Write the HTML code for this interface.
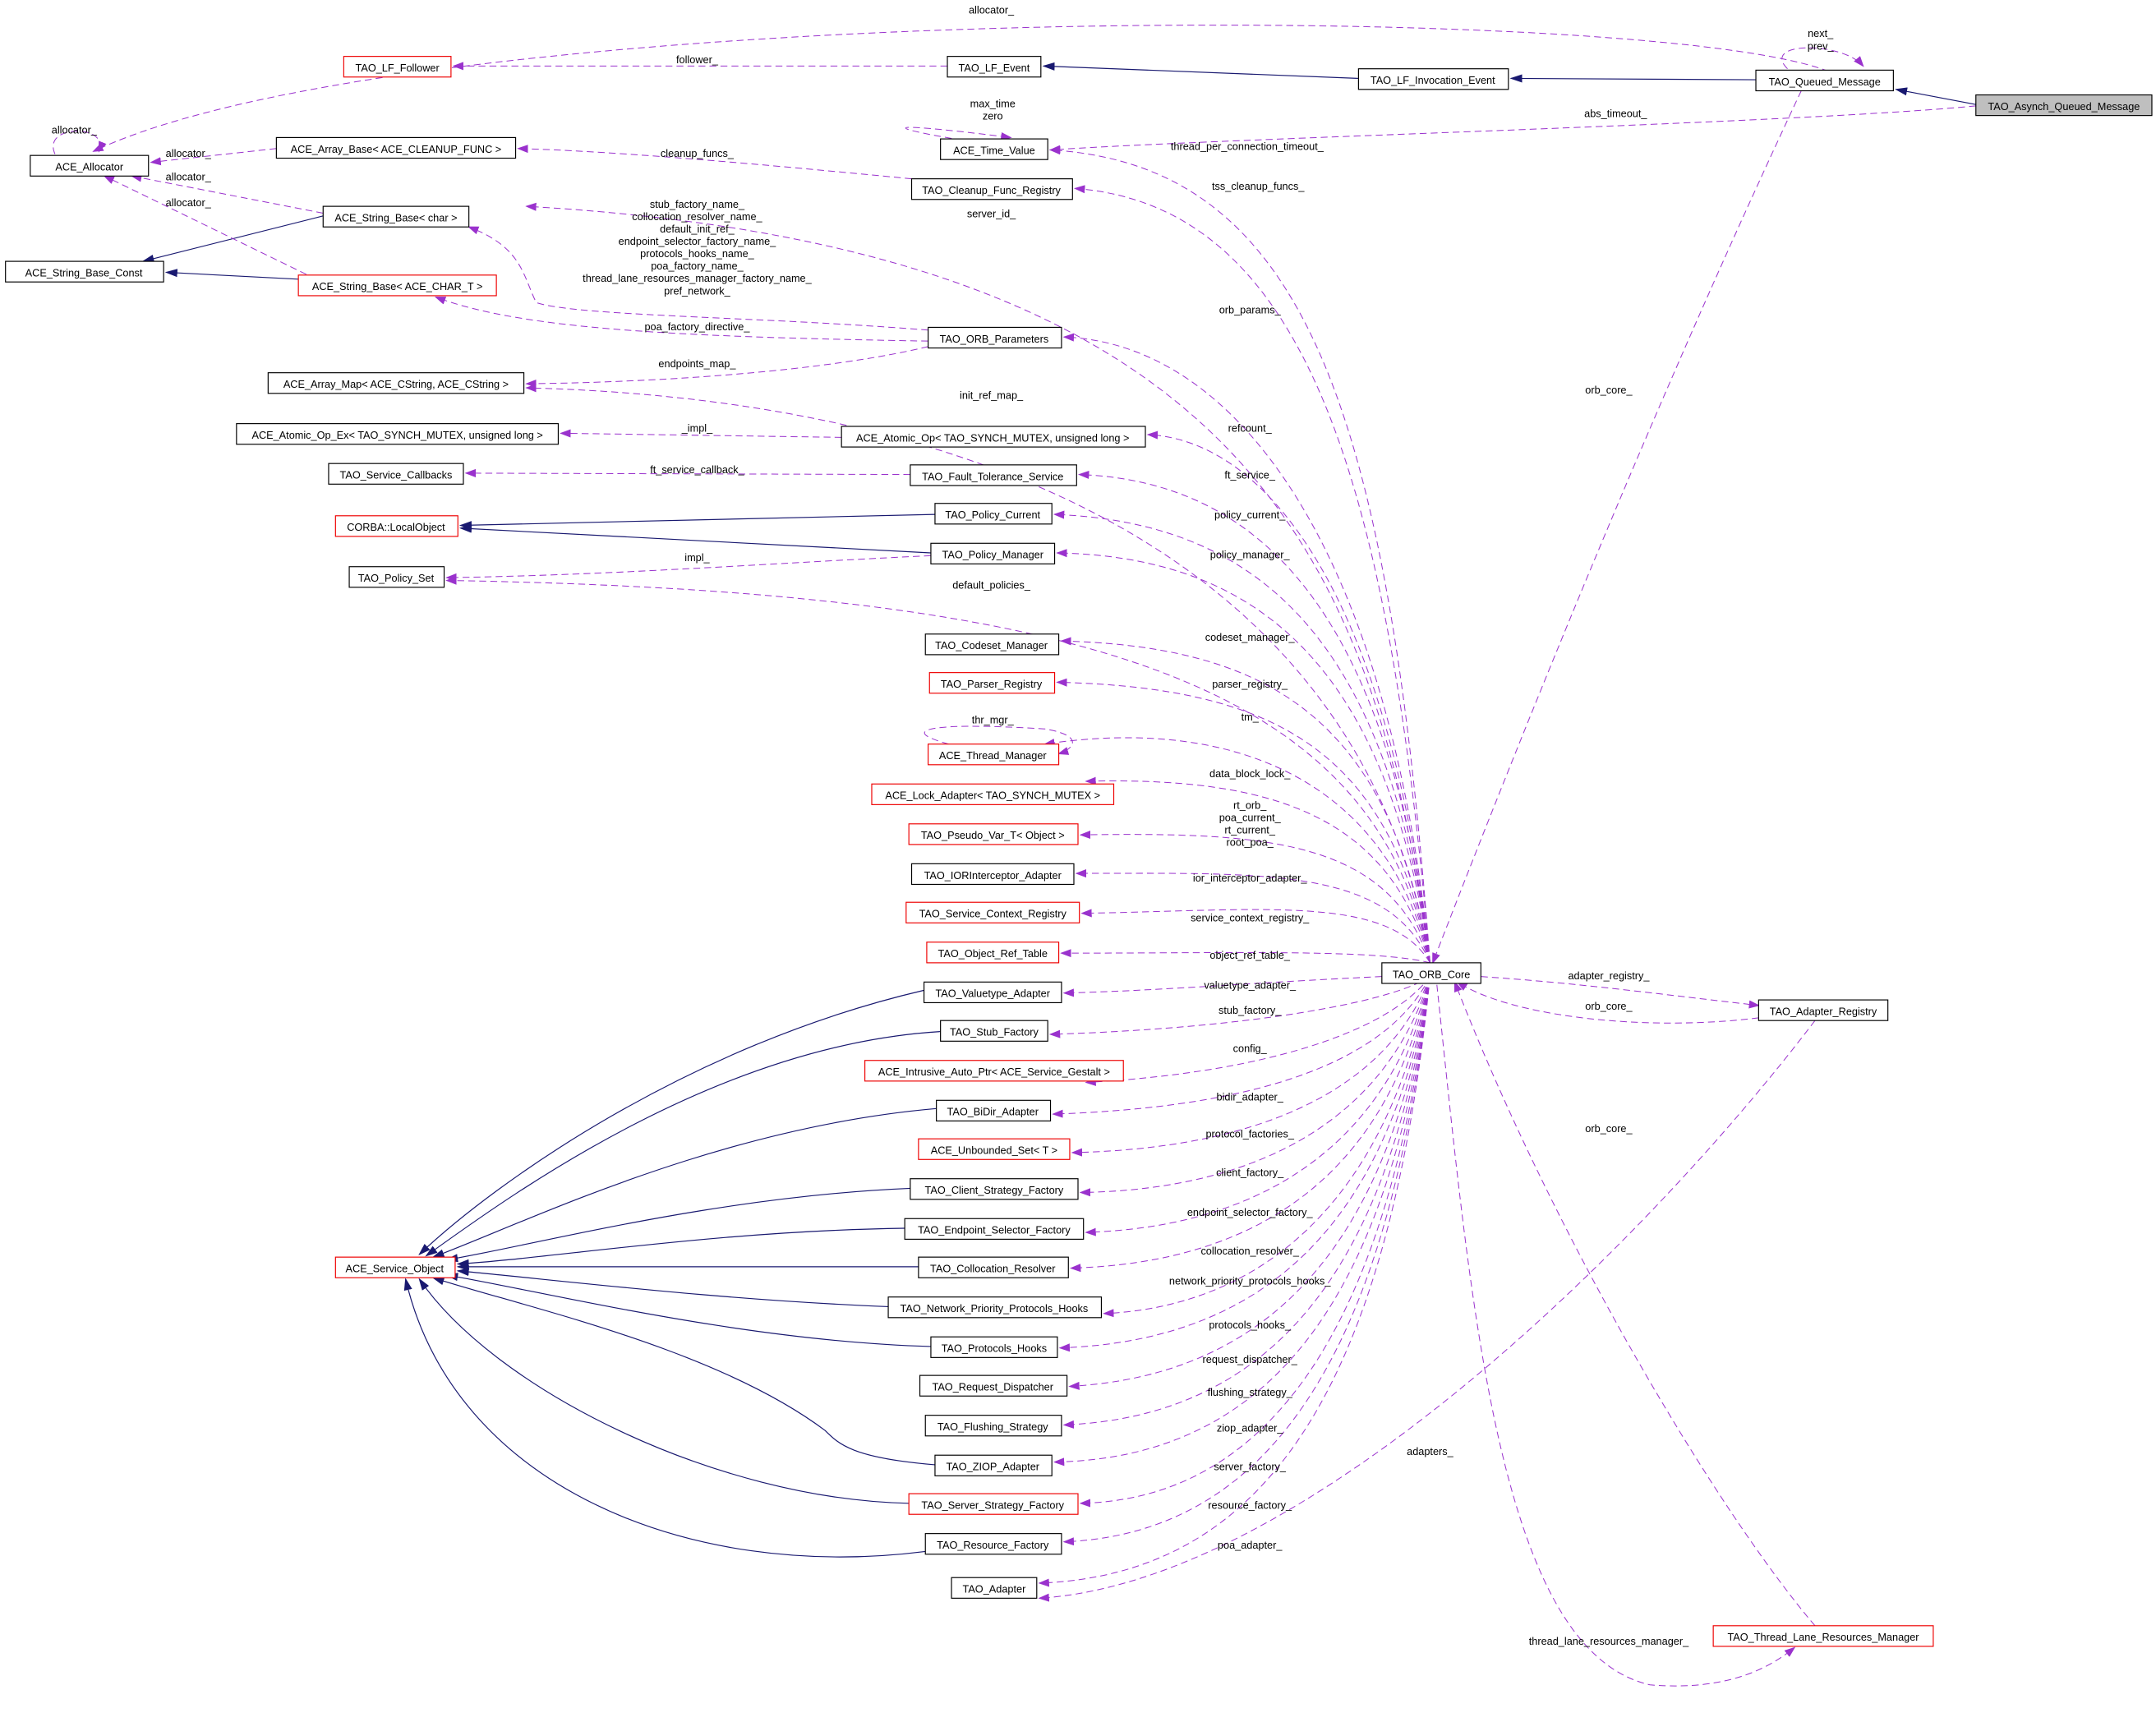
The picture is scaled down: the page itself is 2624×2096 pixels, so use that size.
<!DOCTYPE html>
<html><head><meta charset="utf-8"><style>
html,body{margin:0;padding:0;background:#fff}
svg{display:block}
text{font-family:"Liberation Sans",sans-serif;font-size:7.6px;fill:#000}
.b{fill:#fff;stroke:#000;stroke-width:.7}
.r{fill:#fff;stroke:#e00;stroke-width:.7}
.d{fill:none;stroke:#9a32cd;stroke-width:.6;stroke-dasharray:5,3;marker-end:url(#mp)}
.n{fill:none;stroke:#191970;stroke-width:.7;marker-end:url(#mn)}
.t{text-anchor:middle}
</style></head><body>
<svg width="2624" height="2096" viewBox="0 0 1568 1252" preserveAspectRatio="none" xmlns="http://www.w3.org/2000/svg">
<defs>
<marker id="mp" markerWidth="8" markerHeight="8" refX="7" refY="4" orient="auto" markerUnits="userSpaceOnUse"><path d="M0,1 L8,4 L0,7 z" fill="#9a32cd"/></marker>
<marker id="mn" markerWidth="9" markerHeight="8" refX="8" refY="4" orient="auto" markerUnits="userSpaceOnUse"><path d="M0,1 L9,4 L0,7 z" fill="#191970"/></marker>
</defs>
<path class="n" d="M1437,76 L1379,65"/>
<path class="n" d="M1277,58 L1099,57"/>
<path class="n" d="M988,57 L759,48"/>
<path class="n" d="M235,157 L104,190"/>
<path class="n" d="M217,203 L121,198"/>
<path class="n" d="M680,374 L335,382"/>
<path class="n" d="M677,402 L335,384"/>
<path class="n" d="M672,720 C500,760 360,860 305,912"/>
<path class="n" d="M684,750 C520,760 370,870 310,913"/>
<path class="n" d="M681,806 C520,820 380,890 315,914"/>
<path class="n" d="M662,864 C520,870 390,905 325,916"/>
<path class="n" d="M658,893 C520,895 400,915 333,919"/>
<path class="n" d="M668,921 L333,921"/>
<path class="n" d="M646,950 C520,945 400,930 333,924"/>
<path class="n" d="M677,979 C540,975 400,940 325,927"/>
<path class="n" d="M680,1065 C620,1060 610,1050 600,1040 C520,980 380,950 315,929"/>
<path class="n" d="M661,1093 C520,1090 360,1010 305,930"/>
<path class="n" d="M673,1128 C500,1150 330,1080 295,930"/>
<path class="d" d="M1437,77 C1300,90 900,100 764,109"/>
<path class="d" d="M1310,66 C1200,300 1100,550 1042,700"/>
<path class="d" d="M1300,50 C1280,30 1340,30 1355,48"/>
<path class="d" d="M1330,52 C1200,0 300,0 68,110"/>
<path class="d" d="M40,112 C30,90 80,90 72,110"/>
<path class="d" d="M689,48 L330,48"/>
<path class="d" d="M700,102 C640,92 640,88 735,100"/>
<path class="d" d="M201,108 L110,118"/>
<path class="d" d="M235,155 L96,128"/>
<path class="d" d="M230,203 L76,128"/>
<path class="d" d="M663,130 C560,120 450,110 377,108"/>
<path class="d" d="M1040,700 C1000,400 900,180 383,150"/>
<path class="d" d="M675,240 C550,230 420,230 390,220 C380,200 380,180 341,165"/>
<path class="d" d="M675,248 C500,245 380,240 317,216"/>
<path class="d" d="M675,252 C600,270 480,278 383,279"/>
<path class="d" d="M1040,700 C990,400 700,290 383,282"/>
<path class="d" d="M612,318 L408,315"/>
<path class="d" d="M662,345 L339,344"/>
<path class="d" d="M677,404 C550,410 450,418 325,420"/>
<path class="d" d="M1040,700 C1000,500 800,430 325,422"/>
<path class="d" d="M1040,700 C1010,300 950,120 764,109"/>
<path class="d" d="M1040,700 C1010,350 950,150 782,137"/>
<path class="d" d="M1040,700 C1010,400 900,250 774,245"/>
<path class="d" d="M1040,700 C1010,430 920,320 835,316"/>
<path class="d" d="M1040,700 C1010,450 920,350 785,345"/>
<path class="d" d="M1040,700 C1010,470 920,380 767,374"/>
<path class="d" d="M1040,700 C1010,490 920,405 769,402"/>
<path class="d" d="M1040,700 C1010,520 920,470 772,466"/>
<path class="d" d="M1040,700 C1010,540 920,500 769,496"/>
<path class="d" d="M1040,700 C1010,570 900,520 760,541"/>
<path class="d" d="M690,541 C650,530 680,525 760,530 C790,535 780,545 770,548"/>
<path class="d" d="M1040,700 C1010,590 920,565 790,568"/>
<path class="d" d="M1040,700 C1010,610 920,605 786,607"/>
<path class="d" d="M1040,700 C1010,630 920,635 783,635"/>
<path class="d" d="M1040,700 C1010,650 920,662 787,664"/>
<path class="d" d="M1040,700 C1000,690 900,693 772,693"/>
<path class="d" d="M1005,710 C900,715 850,720 774,722"/>
<path class="d" d="M1040,710 C1010,730 900,748 764,752"/>
<path class="d" d="M1040,710 C1010,750 920,780 790,787"/>
<path class="d" d="M1040,710 C1010,770 920,805 766,810"/>
<path class="d" d="M1040,710 C1010,790 920,835 780,838"/>
<path class="d" d="M1040,710 C1010,810 920,865 786,867"/>
<path class="d" d="M1040,710 C1010,830 920,892 790,896"/>
<path class="d" d="M1040,710 C1010,850 920,918 779,922"/>
<path class="d" d="M1040,710 C1010,870 920,950 803,955"/>
<path class="d" d="M1040,710 C1010,890 920,975 771,980"/>
<path class="d" d="M1040,710 C1010,910 920,1000 778,1008"/>
<path class="d" d="M1040,710 C1010,930 920,1030 774,1036"/>
<path class="d" d="M1040,710 C1010,950 920,1060 767,1063"/>
<path class="d" d="M1040,710 C1010,970 920,1090 786,1093"/>
<path class="d" d="M1040,710 C1010,990 920,1115 774,1121"/>
<path class="d" d="M1040,710 C1010,1010 920,1145 756,1151"/>
<path class="d" d="M1320,742 C1200,900 950,1150 756,1162"/>
<path class="d" d="M1077,710 C1150,715 1200,722 1279,731"/>
<path class="d" d="M1279,740 C1200,750 1100,740 1060,714"/>
<path class="d" d="M1320,1182 C1250,1100 1130,900 1058,714"/>
<path class="d" d="M1045,716 C1070,950 1090,1200 1200,1225 C1260,1230 1290,1210 1305,1198"/>
<text x="721" y="10" class="t">allocator_</text>
<text x="1324" y="27" class="t">next_</text>
<text x="1324" y="36" class="t">prev_</text>
<text x="1175" y="85" class="t">abs_timeout_</text>
<text x="507" y="46" class="t">follower_</text>
<text x="54" y="97" class="t">allocator_</text>
<text x="722" y="78" class="t">max_time</text>
<text x="722" y="87" class="t">zero</text>
<text x="137" y="114" class="t">allocator_</text>
<text x="137" y="131" class="t">allocator_</text>
<text x="137" y="150" class="t">allocator_</text>
<text x="507" y="114" class="t">cleanup_funcs_</text>
<text x="907" y="109" class="t">thread_per_connection_timeout_</text>
<text x="915" y="138" class="t">tss_cleanup_funcs_</text>
<text x="721" y="158" class="t">server_id_</text>
<text x="507" y="151" class="t">stub_factory_name_</text>
<text x="507" y="160" class="t">collocation_resolver_name_</text>
<text x="507" y="169" class="t">default_init_ref_</text>
<text x="507" y="178" class="t">endpoint_selector_factory_name_</text>
<text x="507" y="187" class="t">protocols_hooks_name_</text>
<text x="507" y="196" class="t">poa_factory_name_</text>
<text x="507" y="205" class="t">thread_lane_resources_manager_factory_name_</text>
<text x="507" y="214" class="t">pref_network_</text>
<text x="507" y="240" class="t">poa_factory_directive_</text>
<text x="909" y="228" class="t">orb_params_</text>
<text x="507" y="267" class="t">endpoints_map_</text>
<text x="721" y="290" class="t">init_ref_map_</text>
<text x="507" y="314" class="t">_impl_</text>
<text x="909" y="314" class="t">refcount_</text>
<text x="507" y="344" class="t">ft_service_callback_</text>
<text x="909" y="348" class="t">ft_service_</text>
<text x="909" y="377" class="t">policy_current_</text>
<text x="909" y="406" class="t">policy_manager_</text>
<text x="507" y="408" class="t">impl_</text>
<text x="721" y="428" class="t">default_policies_</text>
<text x="1170" y="286" class="t">orb_core_</text>
<text x="909" y="466" class="t">codeset_manager_</text>
<text x="909" y="500" class="t">parser_registry_</text>
<text x="722" y="526" class="t">thr_mgr_</text>
<text x="909" y="524" class="t">tm_</text>
<text x="909" y="565" class="t">data_block_lock_</text>
<text x="909" y="588" class="t">rt_orb_</text>
<text x="909" y="597" class="t">poa_current_</text>
<text x="909" y="606" class="t">rt_current_</text>
<text x="909" y="615" class="t">root_poa_</text>
<text x="909" y="641" class="t">ior_interceptor_adapter_</text>
<text x="909" y="670" class="t">service_context_registry_</text>
<text x="909" y="697" class="t">object_ref_table_</text>
<text x="909" y="719" class="t">valuetype_adapter_</text>
<text x="909" y="737" class="t">stub_factory_</text>
<text x="909" y="765" class="t">config_</text>
<text x="909" y="800" class="t">bidir_adapter_</text>
<text x="909" y="827" class="t">protocol_factories_</text>
<text x="909" y="855" class="t">client_factory_</text>
<text x="909" y="884" class="t">endpoint_selector_factory_</text>
<text x="909" y="912" class="t">collocation_resolver_</text>
<text x="909" y="934" class="t">network_priority_protocols_hooks_</text>
<text x="909" y="966" class="t">protocols_hooks_</text>
<text x="909" y="991" class="t">request_dispatcher_</text>
<text x="909" y="1015" class="t">flushing_strategy_</text>
<text x="909" y="1041" class="t">ziop_adapter_</text>
<text x="909" y="1069" class="t">server_factory_</text>
<text x="909" y="1097" class="t">resource_factory_</text>
<text x="909" y="1126" class="t">poa_adapter_</text>
<text x="1040" y="1058" class="t">adapters_</text>
<text x="1170" y="712" class="t">adapter_registry_</text>
<text x="1170" y="734" class="t">orb_core_</text>
<text x="1170" y="823" class="t">orb_core_</text>
<text x="1170" y="1196" class="t">thread_lane_resources_manager_</text>
<rect x="1437" y="69" width="128" height="15" fill="#bfbfbf" stroke="#000" stroke-width=".7"/><text x="1501" y="80" class="t">TAO_Asynch_Queued_Message</text>
<rect class="b" x="1277" y="51" width="100" height="15"/><text x="1327" y="62" class="t">TAO_Queued_Message</text>
<rect class="b" x="988" y="50" width="109" height="15"/><text x="1042" y="61" class="t">TAO_LF_Invocation_Event</text>
<rect class="b" x="689" y="41" width="68" height="15"/><text x="723" y="52" class="t">TAO_LF_Event</text>
<rect class="r" x="250" y="41" width="78" height="15"/><text x="289" y="52" class="t">TAO_LF_Follower</text>
<rect class="b" x="22" y="113" width="86" height="15"/><text x="65" y="124" class="t">ACE_Allocator</text>
<rect class="b" x="684" y="101" width="78" height="15"/><text x="723" y="112" class="t">ACE_Time_Value</text>
<rect class="b" x="201" y="100" width="174" height="15"/><text x="288" y="111" class="t">ACE_Array_Base&lt; ACE_CLEANUP_FUNC &gt;</text>
<rect class="b" x="663" y="130" width="117" height="15"/><text x="721" y="141" class="t">TAO_Cleanup_Func_Registry</text>
<rect class="b" x="235" y="150" width="106" height="15"/><text x="288" y="161" class="t">ACE_String_Base&lt; char &gt;</text>
<rect class="b" x="4" y="190" width="115" height="15"/><text x="61" y="201" class="t">ACE_String_Base_Const</text>
<rect class="r" x="217" y="200" width="144" height="15"/><text x="289" y="211" class="t">ACE_String_Base&lt; ACE_CHAR_T &gt;</text>
<rect class="b" x="675" y="238" width="97" height="15"/><text x="723" y="249" class="t">TAO_ORB_Parameters</text>
<rect class="b" x="195" y="271" width="186" height="15"/><text x="288" y="282" class="t">ACE_Array_Map&lt; ACE_CString, ACE_CString &gt;</text>
<rect class="b" x="172" y="308" width="234" height="15"/><text x="289" y="319" class="t">ACE_Atomic_Op_Ex&lt; TAO_SYNCH_MUTEX, unsigned long &gt;</text>
<rect class="b" x="612" y="310" width="221" height="15"/><text x="722" y="321" class="t">ACE_Atomic_Op&lt; TAO_SYNCH_MUTEX, unsigned long &gt;</text>
<rect class="b" x="239" y="337" width="98" height="15"/><text x="288" y="348" class="t">TAO_Service_Callbacks</text>
<rect class="b" x="662" y="338" width="121" height="15"/><text x="722" y="349" class="t">TAO_Fault_Tolerance_Service</text>
<rect class="b" x="680" y="366" width="85" height="15"/><text x="722" y="377" class="t">TAO_Policy_Current</text>
<rect class="r" x="244" y="375" width="89" height="15"/><text x="288" y="386" class="t">CORBA::LocalObject</text>
<rect class="b" x="677" y="395" width="90" height="15"/><text x="722" y="406" class="t">TAO_Policy_Manager</text>
<rect class="b" x="254" y="412" width="69" height="15"/><text x="288" y="423" class="t">TAO_Policy_Set</text>
<rect class="b" x="673" y="461" width="97" height="15"/><text x="721" y="472" class="t">TAO_Codeset_Manager</text>
<rect class="r" x="676" y="489" width="91" height="15"/><text x="721" y="500" class="t">TAO_Parser_Registry</text>
<rect class="r" x="675" y="541" width="95" height="15"/><text x="722" y="552" class="t">ACE_Thread_Manager</text>
<rect class="r" x="634" y="570" width="176" height="15"/><text x="722" y="581" class="t">ACE_Lock_Adapter&lt; TAO_SYNCH_MUTEX &gt;</text>
<rect class="r" x="661" y="599" width="123" height="15"/><text x="722" y="610" class="t">TAO_Pseudo_Var_T&lt; Object &gt;</text>
<rect class="b" x="663" y="628" width="118" height="15"/><text x="722" y="639" class="t">TAO_IORInterceptor_Adapter</text>
<rect class="r" x="659" y="656" width="126" height="15"/><text x="722" y="667" class="t">TAO_Service_Context_Registry</text>
<rect class="r" x="674" y="685" width="96" height="15"/><text x="722" y="696" class="t">TAO_Object_Ref_Table</text>
<rect class="b" x="1005" y="700" width="72" height="15"/><text x="1041" y="711" class="t">TAO_ORB_Core</text>
<rect class="b" x="672" y="714" width="100" height="15"/><text x="722" y="725" class="t">TAO_Valuetype_Adapter</text>
<rect class="b" x="684" y="742" width="78" height="15"/><text x="723" y="753" class="t">TAO_Stub_Factory</text>
<rect class="r" x="629" y="771" width="188" height="15"/><text x="723" y="782" class="t">ACE_Intrusive_Auto_Ptr&lt; ACE_Service_Gestalt &gt;</text>
<rect class="b" x="681" y="800" width="83" height="15"/><text x="722" y="811" class="t">TAO_BiDir_Adapter</text>
<rect class="r" x="668" y="828" width="110" height="15"/><text x="723" y="839" class="t">ACE_Unbounded_Set&lt; T &gt;</text>
<rect class="b" x="662" y="857" width="122" height="15"/><text x="723" y="868" class="t">TAO_Client_Strategy_Factory</text>
<rect class="b" x="658" y="886" width="130" height="15"/><text x="723" y="897" class="t">TAO_Endpoint_Selector_Factory</text>
<rect class="r" x="244" y="914" width="87" height="15"/><text x="287" y="925" class="t">ACE_Service_Object</text>
<rect class="b" x="668" y="914" width="109" height="15"/><text x="722" y="925" class="t">TAO_Collocation_Resolver</text>
<rect class="b" x="646" y="943" width="155" height="15"/><text x="723" y="954" class="t">TAO_Network_Priority_Protocols_Hooks</text>
<rect class="b" x="677" y="972" width="92" height="15"/><text x="723" y="983" class="t">TAO_Protocols_Hooks</text>
<rect class="b" x="669" y="1000" width="107" height="15"/><text x="722" y="1011" class="t">TAO_Request_Dispatcher</text>
<rect class="b" x="673" y="1029" width="99" height="15"/><text x="722" y="1040" class="t">TAO_Flushing_Strategy</text>
<rect class="b" x="680" y="1058" width="85" height="15"/><text x="722" y="1069" class="t">TAO_ZIOP_Adapter</text>
<rect class="r" x="661" y="1086" width="123" height="15"/><text x="722" y="1097" class="t">TAO_Server_Strategy_Factory</text>
<rect class="b" x="673" y="1115" width="99" height="15"/><text x="722" y="1126" class="t">TAO_Resource_Factory</text>
<rect class="b" x="692" y="1147" width="62" height="15"/><text x="723" y="1158" class="t">TAO_Adapter</text>
<rect class="b" x="1279" y="727" width="94" height="15"/><text x="1326" y="738" class="t">TAO_Adapter_Registry</text>
<rect class="r" x="1246" y="1182" width="160" height="15"/><text x="1326" y="1193" class="t">TAO_Thread_Lane_Resources_Manager</text>
</svg>
</body></html>
